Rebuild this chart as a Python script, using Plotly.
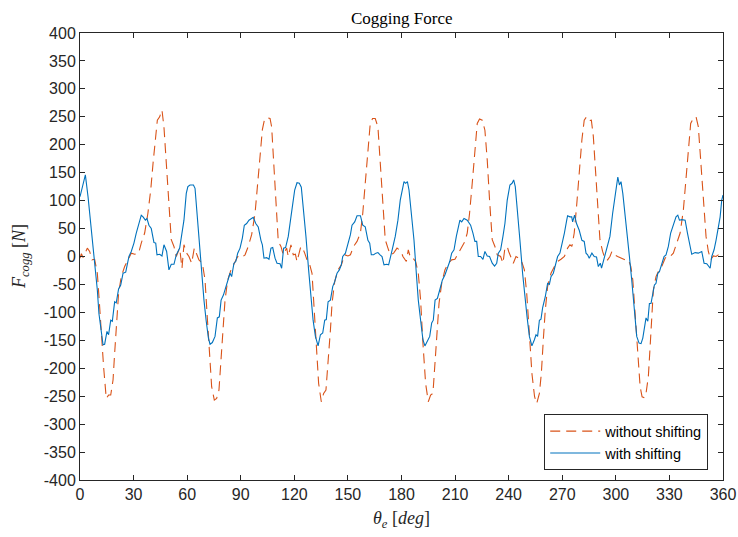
import plotly.graph_objects as go

# ---- data ----
theta_without = [0, 0.8, 1.7, 4.1, 5.4, 6.7, 8.2, 9.7, 11, 11.9, 13.2, 14.7, 16, 17.2, 18.5, 19.4, 20.7, 21.6, 23.1, 25, 26.9, 28.7, 30.6, 32.8, 34.3, 36.2, 38, 39.6, 40.9, 42.2, 43.3, 44.6, 45.9, 47, 48.3, 49.6, 51.1, 52.6, 53.9, 55.8, 57.1, 58.2,
                 59.7, 61, 62.5, 64, 65.3, 66.6, 68.5, 70, 70.9, 72.2, 73.7, 75.2, 76.5, 77.8, 79, 80.3, 81.2, 82.7, 84.5, 86.4, 88.3, 90.1, 92.4, 94.2, 96.1, 98, 99.5, 100.8, 102.1, 103.2, 104.5, 106.4, 107.3, 108.2, 109.5, 111, 112.5, 113.8, 115.7, 116.6, 118.1, 119.4,
                 120.6, 121.5, 123.4, 124.3, 125.8, 127.1, 128.4, 129.9, 130.8, 132.1, 133.6, 135.1, 136.4, 137.7, 138.8, 140.2, 141.1, 142.6, 144.4, 146.3, 148.2, 150, 151.4, 153.2, 155.1, 157, 158.3, 159.7, 161.2, 162.5, 163.8, 165.3, 166.8, 168.1, 169.4, 170.9, 172.4, 173.7, 175.6, 177.5, 178.8,
                 180.1, 180.8, 182.7, 183.8, 185.1, 186.4, 187.9, 189.4, 190.7, 192, 193.5, 195, 196.3, 197.6, 198.7, 200.1, 201, 202.5, 204.3, 206.2, 208.1, 209.9, 211.8, 213.7, 215.5, 216.8, 218.1, 219.6, 221.1, 222.4, 223.7, 225.2, 226.7, 228, 229.3, 230.8, 232.3, 233.6, 235.5, 236.8, 237.9, 239.2,
                 240, 241.3, 242.6, 244.1, 245.6, 246.9, 248.8, 250.1, 251.6, 253, 254.5, 255.7, 257.2, 258.3, 259.4, 260.5, 261.8, 263.7, 265.6, 267.4, 269.3, 271.2, 273, 274.3, 275.4, 276.7, 278, 279.5, 281, 282.3, 283.6, 285.1, 286.3, 287.4, 288.5, 289.8, 291.1, 292.6, 294.1, 295.4, 296.7, 297.8, 299.1,
                 301, 303.3, 305.2, 307.1, 308.4, 309.5, 310.8, 312.1, 313.6, 314.7, 316, 316.9, 318.2, 319.2, 320.1, 321, 322.5, 323.8, 325.7, 327.6, 328.9, 330.4, 332.2, 334.1, 336, 337.8, 339.3, 340.6, 341.9, 343.4, 344.9, 346.2, 347.5, 349, 350.5, 351.8, 353.1, 354.6, 356.1, 357.4, 358.7, 360]
force_without = [-3, 5, -2, 15, 9, -6, -5, -30, -90, -138, -197, -254, -248, -248, -221, -173, -108, -66, -36, -18, -6, 6, 4, 6, 24, 42, 77, 119, 167, 215, 244, 250, 262, 232, 173, 101, 30, 18, 0, 15, -21, 21,
                 6, 0, -12, 15, 4, -6, -12, -42, -90, -161, -233, -257, -254, -239, -185, -126, -78, -42, -24, -12, 0, -3, 3, 18, 39, 77, 125, 179, 227, 244, 249, 247, 232, 179, 101, 27, 18, 3, 15, 0, 21, 3,
                 4, -9, 15, 18, 6, -6, -12, -30, -78, -155, -227, -260, -245, -239, -197, -132, -84, -45, -24, -15, 3, 1, 3, 18, 27, 42, 77, 131, 185, 238, 247, 247, 232, 173, 101, 30, 15, 3, 6, 15, 12,
                 6, 0, -9, 12, -3, -3, -9, -30, -78, -155, -227, -260, -248, -245, -197, -132, -84, -48, -24, -12, -6, -5, 6, 18, 27, 42, 77, 131, 191, 238, 246, 244, 226, 173, 101, 30, 18, 3, 0, -12, 15, 18,
                 9, -3, -12, 0, -3, -5, -24, -66, -138, -209, -251, -263, -245, -209, -149, -96, -54, -30, -18, -9, -5, 0, 15, 21, 18, 42, 89, 149, 209, 244, 250, 243, 244, 215, 161, 89, 30, 9, -6, -6, 0, 9, 3,
                 0, -3, -6, -6, -18, -42, -108, -173, -233, -251, -253, -245, -215, -161, -102, -60, -36, -27, -18, -3, 1, 0, 6, 24, 42, 83, 137, 197, 238, 247, 250, 232, 173, 101, 36, 9, -6, 1, 0, 3, 0, 0]

theta_with = [0, 1.7, 3, 4.5, 6, 7.3, 8.6, 9.7, 10.6, 11.9, 12.9, 13.8, 15.1, 16, 17.2, 18.1, 19.4, 20.3, 21.6, 22.8, 24.1, 25.6, 26.5, 27.4, 28.7, 30.2, 31.5, 32.8, 34.3, 35.3, 36.6, 37.5, 38.6, 39.9, 41.4, 42.4, 43.1, 44.6, 45.9, 47, 48.5, 49.8, 51.1, 52.6, 53.9, 55.8, 57.1, 58.2, 59.5, 60.4, 61.6,
              63.5, 64.4, 65.3, 66.6, 68.1, 69.4, 70.6, 71.9, 72.8, 74.1, 75.6, 76.9, 78, 79, 80.3, 81.6, 83.1, 84, 84.9, 86.2, 87.2, 88.3, 89.6, 90.9, 92, 93.3, 94.6, 97, 98.4, 99.8, 101.3, 102.1, 103, 104.5, 105.8, 106.9, 107.9, 109.2, 110.3, 112, 112.9, 114, 115.1, 116.6, 118.1, 119.4,
              120.2, 121.5, 122.8, 123.9, 125.2, 126.5, 128, 129.3, 130.5, 131.8, 133.3, 134.6, 135.9, 137, 137.9, 138.9, 140.2, 141.5, 142.6, 143.9, 145.2, 146.3, 147.1, 148.6, 150, 151.4, 152.3, 153.8, 155.1, 157, 158.3, 159.7, 161.2, 162.2, 163.1, 164.4, 165.7, 166.8, 168, 169.1, 170.2, 171.7, 172.8, 173.9, 175, 176.5, 178, 179.3,
              180.1, 181.4, 182.3, 183.3, 184.2, 185.7, 187, 188.3, 189.4, 190.7, 192, 193.1, 194.5, 195.8, 196.9, 197.8, 198.8, 200.1, 201.4, 202.9, 204.3, 205.7, 207, 208.1, 209.4, 210.7, 211.8, 212.7, 213.7, 215, 216.8, 218.7, 220, 221.1, 222.1, 223, 224.3, 225.6, 226.7, 228, 229.3, 230.8, 232.1, 233.3, 234.2, 235.5, 236.8, 237.9, 239.2,
              240, 240.7, 241.9, 242.8, 243.7, 245, 246.3, 247.8, 249.1, 250.3, 251.6, 253, 254.4, 255.3, 256.2, 257.2, 258.1, 259, 260.5, 261.8, 262.8, 263.7, 265, 266.1, 267.4, 268.7, 269.8, 271.2, 272.5, 273, 274.3, 275.3, 275.8, 276.9, 278, 279.5, 281, 282.3, 283.3, 284.2, 285.1, 286.6, 287.9, 289.2, 290.2, 291.3, 292, 293, 294.1, 295.4, 296.7, 298.2, 299.7,
              301.1, 302, 302.9, 303.9, 305.2, 306.5, 307.6, 308.9, 309.9, 310.8, 311.7, 313, 314.1, 315.1, 316, 316.9, 317.9, 318.8, 319.7, 320.7, 321.6, 322.5, 323.5, 324.4, 325.7, 327, 328.1, 329.4, 330.7, 332.2, 333.7, 334.7, 335.6, 336.9, 338.8, 340.1, 341.6, 342.5, 344.4, 346.2, 348.1, 349.4, 350.9, 352.2, 352.8, 353.7, 355, 356.1, 357.4, 358.4, 359.3, 360]
force_with = [107, 128, 146, 107, 59, 29, -12, -60, -102, -138, -158, -157, -134, -140, -114, -116, -81, -83, -58, -51, -30, -28, -12, 0, 9, 24, 42, 59, 74, 71, 65, 68, 56, 50, 25, 24, 3, 4, 1, 21, 9, -24, -14, -14, 3, 15, 42, 65, 113, 125, 128,
              128, 122, 83, 29, -30, -78, -114, -146, -157, -154, -143, -110, -108, -78, -69, -54, -36, -30, -36, -12, -9, 6, 15, 33, 56, 59, 65, 70, 59, 53, 29, 21, -3, -2, -5, 15, 16, -3, -12, -13, -21, 15, 16, 36, 71, 101,
              119, 132, 131, 124, 83, 36, -24, -78, -114, -143, -160, -140, -137, -114, -113, -81, -78, -54, -45, -30, -24, -15, 0, 6, 21, 39, 56, 62, 73, 73, 56, 53, 29, 24, 3, 3, 6, 7, 3, 0, -15, -14, -15, 3, 15, 36, 65, 101,
              113, 134, 131, 134, 119, 77, 29, -30, -78, -114, -149, -160, -152, -143, -119, -114, -78, -75, -60, -42, -33, -21, -9, 6, 12, 36, 56, 65, 62, 68, 65, 56, 42, 27, 27, 0, 0, -5, 9, 1, 0, -12, -17, -12, 6, 12, 36, 59, 101,
              113, 128, 131, 137, 125, 83, 29, -30, -78, -108, -143, -160, -149, -140, -143, -114, -112, -92, -72, -48, -50, -36, -30, -18, 0, 6, 21, 42, 65, 73, 71, 71, 62, 74, 59, 47, 29, 27, 6, 3, -3, 6, 0, -1, -18, -12, -21, -9, 6, 18, 36, 77, 113,
              142, 128, 134, 113, 77, 36, 0, -42, -84, -119, -143, -155, -156, -146, -131, -110, -116, -84, -84, -66, -51, -48, -30, -27, -15, 0, 3, 18, 42, 56, 71, 74, 65, 66, 65, 42, 18, 4, 7, 6, 9, -12, -13, -18, -21, 0, 12, 29, 53, 71, 101, 110]

series_names = ["without shifting", "with shifting"]
x_ticks = list(range(0, 361, 30))
y_ticks = list(range(-400, 401, 50))

ORANGE = "#D95319"
BLUE = "#0072BD"
AX = "#262626"
SANS = "Liberation Sans, Arial, sans-serif"
SERIF = "Liberation Serif, Times New Roman, serif"

fig = go.Figure()
fig.add_trace(go.Scatter(x=theta_without, y=force_without, mode="lines", name=series_names[0],
                         line=dict(color=ORANGE, width=1.1, dash="10px,6px")))
fig.add_trace(go.Scatter(x=theta_with, y=force_with, mode="lines", name=series_names[1],
                         line=dict(color=BLUE, width=1.1)))

axis_common = dict(showline=True, linecolor=AX, linewidth=1, mirror="ticks", ticks="inside",
                   ticklen=5, tickcolor=AX, tickwidth=1, showgrid=False, zeroline=False,
                   automargin=False,
                   tickfont=dict(family=SANS, size=16, color=AX))
fig.update_xaxes(range=[0, 360], tickvals=x_ticks, ticktext=[str(v) for v in x_ticks], **axis_common)
fig.update_yaxes(range=[-400, 400], tickvals=y_ticks, ticktext=[str(v) for v in y_ticks], **axis_common)

fig.update_layout(
    width=738, height=537,
    margin=dict(l=80, r=15, t=33, b=57, autoexpand=False),
    paper_bgcolor="white", plot_bgcolor="white",
    showlegend=True,
    legend=dict(x=0.977, y=0.022, xanchor="right", yanchor="bottom",
                bgcolor="white", bordercolor=AX, borderwidth=1,
                font=dict(family=SANS, size=14.5, color="black"),
                tracegroupgap=0, itemwidth=50),
    annotations=[
        dict(text="Cogging Force", x=0.5, y=1, xref="paper", yref="paper", xanchor="center",
             yanchor="bottom", yshift=3, showarrow=False, font=dict(family=SERIF, size=17, color="black")),
        dict(text="<i>θ</i><sub><i>e</i></sub> [<i>deg</i>]", x=0.5, y=0, xref="paper", yref="paper",
             xanchor="center", yanchor="top", yshift=-26, showarrow=False,
             font=dict(family=SERIF, size=18, color=AX)),
        dict(text="<i>F</i><sub><i>cogg</i></sub> [<i>N</i>]", x=0, y=0.5, xref="paper", yref="paper",
             xanchor="right", yanchor="middle", xshift=-46, textangle=-90, showarrow=False,
             font=dict(family=SERIF, size=18, color=AX)),
    ],
)

fig.write_html("out.html")
